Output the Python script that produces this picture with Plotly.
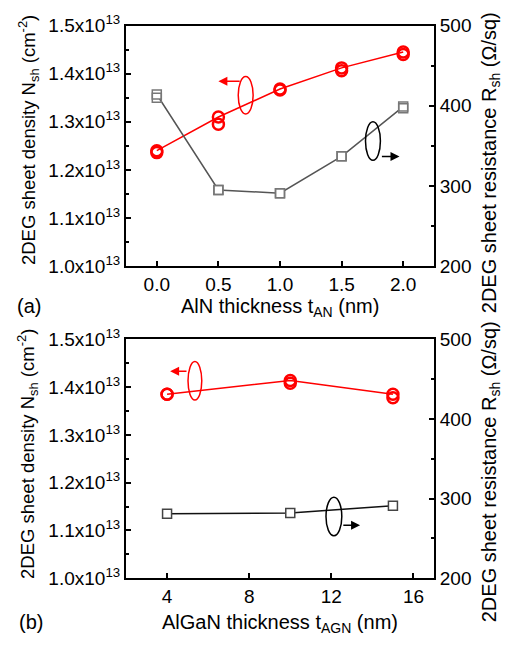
import plotly.graph_objects as go

# ---------------- data ----------------
t_AN = [0.0, 0.5, 1.0, 1.5, 2.0]
Nsh_a_1 = [1.240e13, 1.310e13, 1.368e13, 1.412e13, 1.445e13]
Nsh_a_2 = [1.236e13, 1.295e13, 1.366e13, 1.406e13, 1.440e13]
Rsh_a_1 = [414, 295, 291, 337, 399]
Rsh_a_2 = [410, 295, 291, 337, 397]

t_AGN = [4, 10, 15]
Nsh_b_1 = [1.385e13, 1.414e13, 1.385e13]
Nsh_b_2 = [1.385e13, 1.408e13, 1.378e13]
Rsh_b = [281, 282, 291]

N_ticks = [1.0e13, 1.1e13, 1.2e13, 1.3e13, 1.4e13, 1.5e13]
N_ticktext = ["1.0x10<sup>13</sup>", "1.1x10<sup>13</sup>", "1.2x10<sup>13</sup>",
              "1.3x10<sup>13</sup>", "1.4x10<sup>13</sup>", "1.5x10<sup>13</sup>"]
R_ticks = [200, 300, 400, 500]
xa_ticks = [0.0, 0.5, 1.0, 1.5, 2.0]
xa_ticktext = ["0.0", "0.5", "1.0", "1.5", "2.0"]
xb_ticks = [4, 8, 12, 16]

RED = "#ff0000"
GRAY = "#555555"
FONT = "Liberation Sans, Arial, sans-serif"
W, H = 510, 646

def px_x(p):
    return p / W

def px_y(p):
    return 1 - p / H

fig = go.Figure()

# panel (a)
fig.add_trace(go.Scatter(x=t_AN, y=Nsh_a_1, mode="lines+markers", xaxis="x", yaxis="y",
                         line=dict(color=RED, width=1.5),
                         marker=dict(symbol="circle-open", size=11, color=RED, line=dict(width=2.5)),
                         showlegend=False))
fig.add_trace(go.Scatter(x=t_AN, y=Nsh_a_2, mode="markers", xaxis="x", yaxis="y",
                         marker=dict(symbol="circle-open", size=11, color=RED, line=dict(width=2.5)),
                         showlegend=False))
fig.add_trace(go.Scatter(x=t_AN, y=Rsh_a_1, mode="lines+markers", xaxis="x", yaxis="y2",
                         line=dict(color=GRAY, width=1.5),
                         marker=dict(symbol="square", size=9, color="white",
                                     line=dict(color="#777777", width=1.5)),
                         showlegend=False))
fig.add_trace(go.Scatter(x=t_AN, y=Rsh_a_2, mode="markers", xaxis="x", yaxis="y2",
                         marker=dict(symbol="square-open", size=9, color="#777777", line=dict(width=1.5)),
                         showlegend=False))

# panel (b)
fig.add_trace(go.Scatter(x=t_AGN, y=Nsh_b_1, mode="lines+markers", xaxis="x2", yaxis="y3",
                         line=dict(color=RED, width=1.5),
                         marker=dict(symbol="circle-open", size=11, color=RED, line=dict(width=2.5)),
                         showlegend=False))
fig.add_trace(go.Scatter(x=t_AGN, y=Nsh_b_2, mode="markers", xaxis="x2", yaxis="y3",
                         marker=dict(symbol="circle-open", size=11, color=RED, line=dict(width=2.5)),
                         showlegend=False))
fig.add_trace(go.Scatter(x=t_AGN, y=Rsh_b, mode="lines+markers", xaxis="x2", yaxis="y4",
                         line=dict(color="#111111", width=1.5),
                         marker=dict(symbol="square", size=9, color="white",
                                     line=dict(color="#444444", width=1.5)),
                         showlegend=False))

xdom = [px_x(126), px_x(434)]
ydom_a = [px_y(263), px_y(13)]
ydom_b = [px_y(587), px_y(339)]

tickfont = dict(family=FONT, size=19, color="black")
common = dict(showline=True, linecolor="black", linewidth=2, ticks="inside", ticklen=5,
              tickwidth=1.5, tickcolor="black", showgrid=False, zeroline=False,
              tickfont=tickfont)

fig.update_layout(
    width=W, height=H, margin=dict(l=0, r=0, t=0, b=0),
    paper_bgcolor="white", plot_bgcolor="white",
    font=dict(family=FONT, color="black"),
    xaxis=dict(domain=xdom, anchor="y", range=[-0.25, 2.25], tickvals=xa_ticks,
               ticktext=xa_ticktext, mirror=True, **common),
    yaxis=dict(domain=ydom_a, anchor="x", range=[1.0e13, 1.5e13], tickvals=N_ticks,
               ticktext=N_ticktext, minor=dict(ticks="inside", ticklen=3, dtick=0.05e13,
                                                tickcolor="black", tickwidth=1.5),
               **common),
    yaxis2=dict(overlaying="y", side="right", anchor="x", range=[200, 500], tickvals=R_ticks,
                minor=dict(ticks="inside", ticklen=3, dtick=50, tickcolor="black", tickwidth=1.5),
                **common),
    xaxis2=dict(domain=xdom, anchor="y3", range=[2, 17], tickvals=xb_ticks, mirror=True, **common),
    yaxis3=dict(domain=ydom_b, anchor="x2", range=[1.0e13, 1.5e13], tickvals=N_ticks,
                ticktext=N_ticktext, minor=dict(ticks="inside", ticklen=3, dtick=0.05e13,
                                                 tickcolor="black", tickwidth=1.5),
                **common),
    yaxis4=dict(overlaying="y3", side="right", anchor="x2", range=[200, 500], tickvals=R_ticks,
                minor=dict(ticks="inside", ticklen=3, dtick=50, tickcolor="black", tickwidth=1.5),
                **common),
)

ann = []
def txt(x, y, text, angle=0, size=20):
    ann.append(dict(xref="paper", yref="paper", x=x, y=y, text=text, showarrow=False,
                    textangle=angle, font=dict(family=FONT, size=size, color="black"),
                    xanchor="center", yanchor="middle"))

txt(px_x(28), px_y(132), "2DEG sheet density N<sub>sh</sub> (cm<sup>-2</sup>)", -90, 18.5)
txt(px_x(28), px_y(458), "2DEG sheet density N<sub>sh</sub> (cm<sup>-2</sup>)", -90, 18.5)
txt(px_x(490), px_y(156), "2DEG sheet resistance R<sub>sh</sub> (Ω/sq)", -90, 20)
txt(px_x(490), px_y(477), "2DEG sheet resistance R<sub>sh</sub> (Ω/sq)", -90, 20)
txt(px_x(280), px_y(306), "AlN thickness t<sub>AN</sub> (nm)")
txt(px_x(280), px_y(634), "AlGaN thickness t<sub>AGN</sub> (nm)")
txt(px_x(29), px_y(304), "(a)")
txt(px_x(31), px_y(632), "(b)")

# arrows
def arrow(xref, yref, x, y, ax, ay, color):
    ann.append(dict(xref=xref, yref=yref, axref=xref, ayref=yref, x=x, y=y, ax=ax, ay=ay,
                    text="", showarrow=True, arrowhead=2, arrowsize=1.2, arrowwidth=1.5,
                    arrowcolor=color))

arrow("x", "y", 0.50, 1.384e13, 0.685, 1.384e13, RED)
arrow("x", "y2", 1.97, 336.8, 1.815, 336.8, "black")
arrow("x2", "y3", 4.15, 1.4335e13, 5.02, 1.4335e13, RED)
arrow("x2", "y4", 13.4, 266.6, 12.51, 266.6, "black")
fig.update_layout(annotations=ann)

# ellipses
fig.add_shape(type="circle", xref="x", yref="y", x0=0.661, x1=0.782, y0=1.316e13, y1=1.394e13,
              line=dict(color=RED, width=1.5))
fig.add_shape(type="circle", xref="x", yref="y2", x0=1.694, x1=1.815, y0=332, y1=380,
              line=dict(color="black", width=1.5))
fig.add_shape(type="circle", xref="x2", yref="y3", x0=5.02, x1=5.69, y0=1.373e13, y1=1.4536e13,
              line=dict(color=RED, width=1.5))
fig.add_shape(type="circle", xref="x2", yref="y4", x0=11.74, x1=12.51, y0=253.3, y1=301.7,
              line=dict(color="black", width=1.5))

fig.write_html("out.html")
